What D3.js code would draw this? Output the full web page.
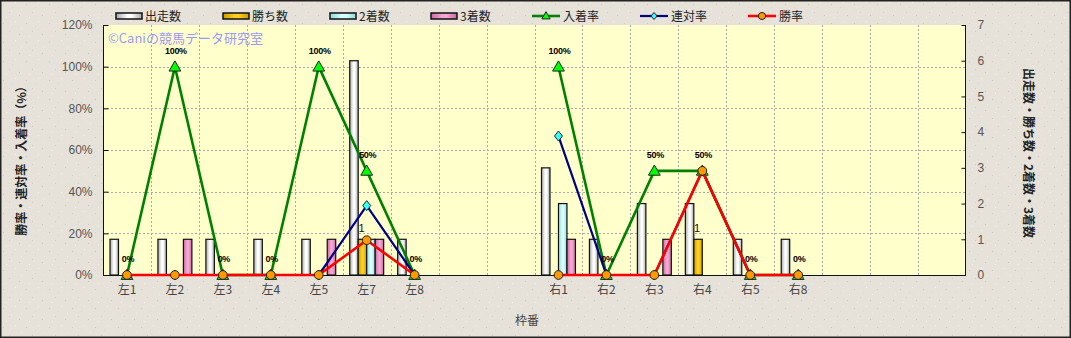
<!DOCTYPE html>
<html><head><meta charset="utf-8">
<script src="https://cdn.jsdelivr.net/npm/d3@7"></script>
<style>
html,body{margin:0;padding:0;background:#fff;}
svg text{font-family:"Noto Sans CJK JP","Noto Sans",sans-serif;}
</style></head>
<body><svg id="c" width="1071" height="338"></svg>
<script>
// ---- data ----
const categories = ["左1","左2","左3","左4","左5","左7","左8","","","右1","右2","右3","右4","右5","右8","","",""];
const starts  = [1,1,1,1,1,6,1,null,null,3,1,2,2,1,1,null,null,null]; // 出走数
const wins    = [0,0,0,0,0,1,0,null,null,0,0,0,1,0,0,null,null,null]; // 勝ち数
const seconds = [0,0,0,0,0,1,0,null,null,2,0,0,0,0,0,null,null,null]; // 2着数
const thirds  = [0,1,0,0,1,1,0,null,null,1,0,1,0,0,0,null,null,null]; // 3着数
const placeRate = [0,100,0,0,100,50,0,null,null,100,0,50,50,0,0,null,null,null]; // 入着率
const rentaiRate = [0,0,0,0,0,33.3,0,null,null,66.7,0,0,50,0,0,null,null,null]; // 連対率
const winRate = [0,0,0,0,0,16.7,0,null,null,0,0,0,50,0,0,null,null,null]; // 勝率
const leftTicks = [0,20,40,60,80,100,120];
const rightTicks = [0,1,2,3,4,5,6,7];
const barNames = ["出走数","勝ち数","2着数","3着数"];
const lineNames = ["入着率","連対率","勝率"];

const svg = d3.select("#c");
const W = 1071, H = 338;
const plot = {l:103, r:966, t:25, b:275};

// defs: background texture & gradients
const defs = svg.append("defs");
const pat = defs.append("pattern").attr("id","tex").attr("width",23).attr("height",19).attr("patternUnits","userSpaceOnUse");
pat.append("rect").attr("width",23).attr("height",19).attr("fill","#e7e2d9");
[[3,4,"#d2ccc0"],[15,2,"#f3f0ea"],[9,12,"#d6d0c4"],[19,15,"#cfc9bd"],[6,17,"#f2efe8"],[12,7,"#ddd8ce"],[21,9,"#f0ece5"]].forEach(([x,y,c])=>{
  pat.append("rect").attr("x",x).attr("y",y).attr("width",1).attr("height",1).attr("fill",c);
});
function grad(id, edge, mid){
  const g = defs.append("linearGradient").attr("id",id).attr("x1","0").attr("x2","1").attr("y1","0").attr("y2","0");
  g.append("stop").attr("offset","0%").attr("stop-color",edge);
  g.append("stop").attr("offset","45%").attr("stop-color",mid);
  g.append("stop").attr("offset","60%").attr("stop-color",mid);
  g.append("stop").attr("offset","100%").attr("stop-color",edge);
}
grad("gW","#a8a8a8","#ffffff");
grad("gY","#c89a00","#ffd020");
grad("gC","#90d8d8","#d8ffff");
grad("gP","#c86aa0","#f4a8d4");
const barFills = ["url(#gW)","url(#gY)","url(#gC)","url(#gP)"];

svg.append("rect").attr("width",W).attr("height",H).attr("fill","url(#tex)");
svg.append("rect").attr("x",0.75).attr("y",0.75).attr("width",W-1.5).attr("height",H-1.5).attr("fill","none").attr("stroke","#222").attr("stroke-width",1.5);

// scales
const x = d3.scaleBand().domain(d3.range(categories.length)).range([plot.l, plot.r]).padding(0);
const xs = d3.scaleBand().domain(d3.range(4)).range([7, x.bandwidth()-7]).padding(0);
const yL = d3.scaleLinear().domain([0,120]).range([plot.b, plot.t]);
const yR = d3.scaleLinear().domain([0,7]).range([plot.b, plot.t]);

// plot area
svg.append("rect").attr("x",plot.l).attr("y",plot.t).attr("width",plot.r-plot.l).attr("height",plot.b-plot.t).attr("fill","#ffffcc");

// gridlines
const grid = svg.append("g").attr("stroke","#a8a8a8").attr("stroke-dasharray","2,2").attr("stroke-width",1);
leftTicks.slice(1,-1).forEach(v=>{
  grid.append("line").attr("x1",plot.l).attr("x2",plot.r).attr("y1",Math.round(yL(v))+0.5).attr("y2",Math.round(yL(v))+0.5);
});
d3.range(1,categories.length).forEach(i=>{
  const xx = Math.round(x(i))+0.5;
  grid.append("line").attr("x1",xx).attr("x2",xx).attr("y1",plot.t).attr("y2",plot.b);
});

// bars
const barSeries = [starts,wins,seconds,thirds];
barSeries.forEach((arr,si)=>{
  svg.append("g").selectAll("rect").data(arr.map((v,i)=>({v,i})).filter(d=>d.v))
    .join("rect")
    .attr("x",d=>x(d.i)+xs(si))
    .attr("y",d=>yR(d.v))
    .attr("width",xs.bandwidth())
    .attr("height",d=>yR(0)-yR(d.v))
    .attr("fill",barFills[si]).attr("stroke","#111").attr("stroke-width",1.2);
});
// labels on 勝ち数 bars
svg.append("g").selectAll("text").data(wins.map((v,i)=>({v,i})).filter(d=>d.v))
  .join("text")
  .attr("x",d=>x(d.i)+xs(1)+xs.bandwidth()/2-1)
  .attr("y",d=>yR(d.v)-7)
  .attr("text-anchor","middle").attr("font-size",11).attr("fill","#111")
  .style("font-family","Liberation Sans, Arial, sans-serif")
  .text(d=>d.v);

// axes frame
svg.append("line").attr("x1",plot.l+0.5).attr("x2",plot.l+0.5).attr("y1",plot.t).attr("y2",plot.b).attr("stroke","#111");
svg.append("line").attr("x1",plot.r-0.5).attr("x2",plot.r-0.5).attr("y1",plot.t).attr("y2",plot.b).attr("stroke","#111");
svg.append("line").attr("x1",plot.l).attr("x2",plot.r).attr("y1",plot.b+0.5).attr("y2",plot.b+0.5).attr("stroke","#111");

// left axis
const axL = svg.append("g").attr("transform",`translate(${plot.l+0.5},0)`)
  .call(d3.axisLeft(yL).tickValues(leftTicks).tickFormat(d=>d+"%").tickSizeInner(-5).tickSizeOuter(0).tickPadding(11));
axL.select(".domain").remove();
axL.selectAll("line").attr("stroke","#111");
axL.selectAll("text").attr("font-size",12).attr("fill","#555").style("font-family","Liberation Sans, Arial, sans-serif");

// right axis
const axR = svg.append("g").attr("transform",`translate(${plot.r-0.5},0)`)
  .call(d3.axisRight(yR).tickValues(rightTicks).tickFormat(d3.format("d")).tickSizeInner(-4).tickSizeOuter(0).tickPadding(12));
axR.select(".domain").remove();
axR.selectAll("line").attr("stroke","#111");
axR.selectAll("text").attr("font-size",12).attr("fill","#555").style("font-family","Liberation Sans, Arial, sans-serif");

// bottom axis
const axB = svg.append("g").attr("transform",`translate(0,${plot.b})`)
  .call(d3.axisBottom(x).tickFormat(i=>categories[i]).tickSize(0).tickPadding(10));
axB.select(".domain").remove();
axB.selectAll("text").attr("font-size",12).attr("fill","#444");

// axis titles
svg.append("text").attr("transform","translate(26,158) rotate(-90)").attr("text-anchor","middle")
  .attr("font-size",12).attr("font-weight","bold").attr("fill","#222").text("勝率・連対率・入着率（%）");
svg.append("text").attr("transform","translate(1024,153) rotate(90)").attr("text-anchor","middle")
  .attr("font-size",12).attr("font-weight","bold").attr("fill","#222").text("出走数・勝ち数・2着数・3着数");
svg.append("text").attr("x",527).attr("y",325).attr("text-anchor","middle").attr("font-size",12).attr("fill","#444").text("枠番");

// watermark
svg.append("text").attr("x",108).attr("y",43).attr("font-size",13).attr("fill","#9a9af0").text("©Caniの競馬データ研究室");

// line series
const cx = i => x(i)+x.bandwidth()/2;
const lineGen = d3.line().defined(d=>d.v!==null).x(d=>cx(d.i)).y(d=>yL(d.v));
const lineSeries = [
  {vals:placeRate, color:"#008000", w:2.6, marker:"tri", mfill:"#00ff00"},
  {vals:rentaiRate, color:"#000080", w:2.2, marker:"dia", mfill:"#33ffff"},
  {vals:winRate, color:"#ff0000", w:2.6, marker:"cir", mfill:"#ff9900"}
];
function markerPath(type){
  if(type==="tri") return d3.symbol(d3.symbolTriangle, 60)();
  if(type==="dia") return "M0,-5L4,0L0,5L-4,0Z";
  return d3.symbol(d3.symbolCircle, 60)();
}
lineSeries.forEach(s=>{
  const pts = s.vals.map((v,i)=>({v,i}));
  svg.append("path").datum(pts).attr("d",lineGen).attr("fill","none").attr("stroke",s.color).attr("stroke-width",s.w).attr("stroke-linejoin","round");
  svg.append("g").selectAll("path").data(pts.filter(d=>d.v!==null)).join("path")
    .attr("transform",d=>`translate(${cx(d.i)},${yL(d.v)+(s.marker==="tri"?1:0)})`)
    .attr("d",markerPath(s.marker)).attr("fill",s.mfill).attr("stroke","#222").attr("stroke-width",1);
});
// data labels for 入着率
svg.append("g").selectAll("text").data(placeRate.map((v,i)=>({v,i})).filter(d=>d.v!==null))
  .join("text")
  .attr("x",d=>cx(d.i)+1).attr("y",d=>yL(d.v)-13)
  .attr("text-anchor","middle").attr("font-size",9).attr("font-weight","bold").attr("fill","#000")
  .style("font-family","Liberation Sans, Arial, sans-serif").style("letter-spacing","-0.3px")
  .text(d=>d.v+"%");

// legend
const leg = svg.append("g");
const legX = [116,223,330,431];
barNames.forEach((n,i)=>{
  leg.append("rect").attr("x",legX[i]).attr("y",13).attr("width",26).attr("height",6).attr("fill",barFills[i]).attr("stroke","#111").attr("stroke-width",1.5);
  leg.append("text").attr("x",legX[i]+29).attr("y",21).attr("font-size",12).attr("fill","#222").text(n);
});
const legLX = [532,640,748];
lineNames.forEach((n,i)=>{
  const s = lineSeries[i];
  leg.append("line").attr("x1",legLX[i]).attr("x2",legLX[i]+28).attr("y1",16).attr("y2",16).attr("stroke",s.color).attr("stroke-width",s.w);
  leg.append("path").attr("transform",`translate(${legLX[i]+14},${16+(s.marker==="tri"?0.5:0)})`)
    .attr("d", s.marker==="tri"? d3.symbol(d3.symbolTriangle,30)() : s.marker==="dia" ? "M0,-3.5L3,0L0,3.5L-3,0Z" : d3.symbol(d3.symbolCircle,40)())
    .attr("fill",s.mfill).attr("stroke","#222").attr("stroke-width",1);
  leg.append("text").attr("x",legLX[i]+31).attr("y",21).attr("font-size",12).attr("fill","#222").text(n);
});
</script></body></html>
